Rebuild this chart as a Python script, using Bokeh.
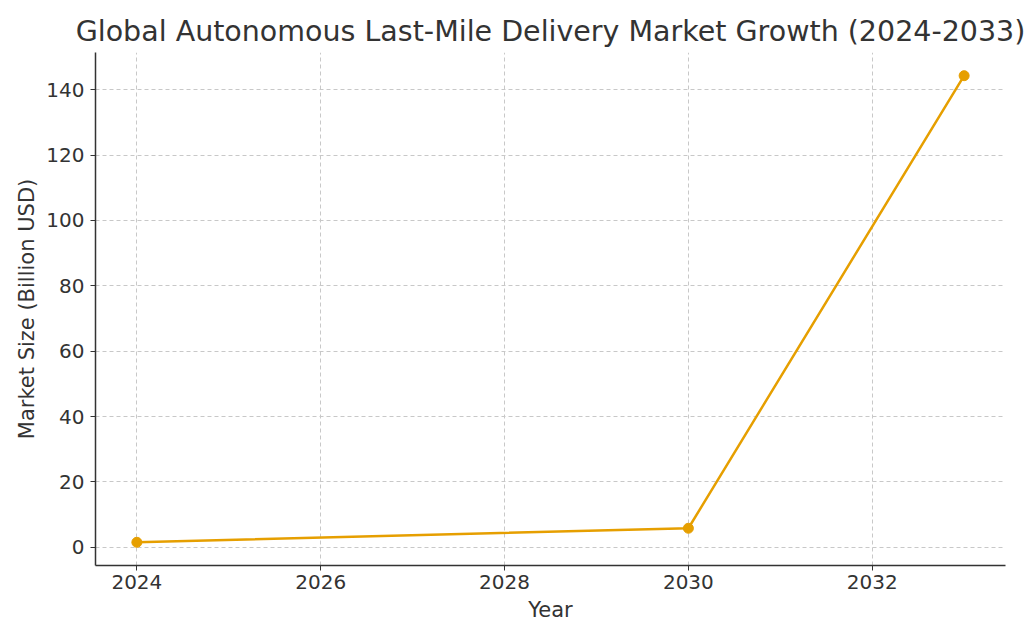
from bokeh.plotting import figure
from bokeh.models import Range1d, FixedTicker
from bokeh.embed import file_html
from bokeh.resources import INLINE

# Market size, billion USD
years = [2024, 2030, 2033]
market_size = [1.5, 5.8, 144.3]
x_ticks = [2024, 2026, 2028, 2030, 2032]
y_ticks = [0, 20, 40, 60, 80, 100, 120, 140]

FONT = "DejaVu Sans"
TEXT = "#333333"
ORANGE = "#E69F00"

p = figure(
    width=1024, height=640,
    output_backend="svg", toolbar_location=None,
    x_range=Range1d(2023.55, 2033.45),
    y_range=Range1d(-5.6, 151.4),
    min_border_left=95, min_border_right=19,
    min_border_top=52, min_border_bottom=75,
    title="Global Autonomous Last-Mile Delivery Market Growth (2024-2033)",
)

p.title.text_font = FONT
p.title.text_font_size = "28.5px"
p.title.text_font_style = "normal"
p.title.text_color = TEXT
p.title.align = "center"
p.title.standoff = 9

p.outline_line_color = None
p.background_fill_color = "white"
p.border_fill_color = "white"

for ax in (p.xaxis[0], p.yaxis[0]):
    ax.axis_line_color = TEXT
    ax.axis_line_width = 1.5
    ax.major_tick_line_color = TEXT
    ax.major_tick_out = 5
    ax.major_tick_in = 0
    ax.minor_tick_line_color = None
    ax.major_label_text_font = FONT
    ax.major_label_text_font_size = "20px"
    ax.major_label_text_color = TEXT
    ax.axis_label_text_font = FONT
    ax.axis_label_text_font_size = "21px"
    ax.axis_label_text_font_style = "normal"
    ax.axis_label_text_color = TEXT

p.xaxis.ticker = FixedTicker(ticks=x_ticks)
p.yaxis.ticker = FixedTicker(ticks=y_ticks)
p.xaxis.axis_label = "Year"
p.yaxis.axis_label = "Market Size (Billion USD)"
p.xaxis.major_label_standoff = 4
p.yaxis.major_label_standoff = 6
p.xaxis.axis_label_standoff = 6
p.yaxis.axis_label_standoff = 4

for g in (p.xgrid[0], p.ygrid[0]):
    g.grid_line_color = "#c8c8c8"
    g.grid_line_dash = "4 3"
    g.grid_line_width = 1
p.xgrid.ticker = FixedTicker(ticks=x_ticks)
p.ygrid.ticker = FixedTicker(ticks=y_ticks)

p.line(years, market_size, line_color=ORANGE, line_width=2.5)
p.scatter(years, market_size, size=10, fill_color=ORANGE, line_color=ORANGE)

open("out.html", "w").write(file_html(p, INLINE))
